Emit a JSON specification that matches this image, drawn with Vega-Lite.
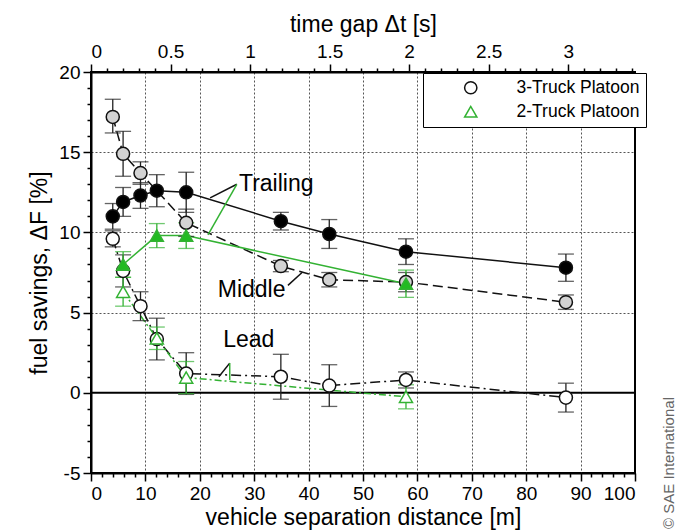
{
  "$schema": "https://vega.github.io/schema/vega-lite/v6.json",
  "width": 544,
  "height": 401,
  "autosize": {"type": "none"},
  "padding": {"left": 91, "top": 72, "right": 46, "bottom": 58},
  "background": "white",
  "config": {
    "font": "Liberation Sans",
    "view": {"stroke": "black", "strokeWidth": 2},
    "axis": {
      "domainColor": "black",
      "domainWidth": 2,
      "tickColor": "black",
      "tickWidth": 1.5,
      "labelColor": "black",
      "titleColor": "black",
      "labelFontSize": 19,
      "titleFontSize": 23,
      "titleFontWeight": "normal",
      "gridColor": "#555555",
      "gridDash": [2, 2],
      "gridWidth": 1
    },
    "legend": {"labelFontSize": 17.5, "labelColor": "black"}
  },
  "title": {
    "text": "© SAE International",
    "orient": "right",
    "anchor": "end",
    "frame": "bounds",
    "angle": -90,
    "align": "left",
    "baseline": "top",
    "fontSize": 15,
    "fontWeight": "normal",
    "color": "#666666",
    "offset": 0
  },
  "datasets": {
    "fuel": [
      {"series": "3T Trailing", "platoon": "3-Truck Platoon", "d": 4.0, "f": 11.0, "lo": 10.2, "hi": 11.8},
      {"series": "3T Trailing", "platoon": "3-Truck Platoon", "d": 5.9, "f": 11.9, "lo": 11.0, "hi": 12.8},
      {"series": "3T Trailing", "platoon": "3-Truck Platoon", "d": 9.1, "f": 12.3, "lo": 11.5, "hi": 13.1},
      {"series": "3T Trailing", "platoon": "3-Truck Platoon", "d": 12.1, "f": 12.6, "lo": 11.6, "hi": 13.6},
      {"series": "3T Trailing", "platoon": "3-Truck Platoon", "d": 17.5, "f": 12.5, "lo": 11.25, "hi": 13.75},
      {"series": "3T Trailing", "platoon": "3-Truck Platoon", "d": 34.9, "f": 10.7, "lo": 10.15, "hi": 11.25},
      {"series": "3T Trailing", "platoon": "3-Truck Platoon", "d": 43.8, "f": 9.9, "lo": 9.0, "hi": 10.8},
      {"series": "3T Trailing", "platoon": "3-Truck Platoon", "d": 57.9, "f": 8.8, "lo": 8.0, "hi": 9.6},
      {"series": "3T Trailing", "platoon": "3-Truck Platoon", "d": 87.3, "f": 7.8, "lo": 6.95, "hi": 8.65},
      {"series": "3T Middle", "platoon": "3-Truck Platoon", "d": 4.0, "f": 17.2, "lo": 16.2, "hi": 18.3},
      {"series": "3T Middle", "platoon": "3-Truck Platoon", "d": 5.9, "f": 14.9, "lo": 13.5, "hi": 16.3},
      {"series": "3T Middle", "platoon": "3-Truck Platoon", "d": 9.1, "f": 13.7, "lo": 13.0, "hi": 14.4},
      {"series": "3T Middle", "platoon": "3-Truck Platoon", "d": 17.5, "f": 10.6, "lo": 9.75, "hi": 11.45},
      {"series": "3T Middle", "platoon": "3-Truck Platoon", "d": 34.9, "f": 7.9, "lo": 7.55, "hi": 8.25},
      {"series": "3T Middle", "platoon": "3-Truck Platoon", "d": 43.8, "f": 7.05, "lo": 6.6, "hi": 7.5},
      {"series": "3T Middle", "platoon": "3-Truck Platoon", "d": 57.9, "f": 6.9, "lo": 6.3, "hi": 7.5},
      {"series": "3T Middle", "platoon": "3-Truck Platoon", "d": 87.3, "f": 5.65, "lo": 5.2, "hi": 6.1},
      {"series": "3T Lead", "platoon": "3-Truck Platoon", "d": 4.0, "f": 9.6, "lo": 9.1, "hi": 10.1},
      {"series": "3T Lead", "platoon": "3-Truck Platoon", "d": 5.9, "f": 7.6, "lo": 6.6, "hi": 8.6},
      {"series": "3T Lead", "platoon": "3-Truck Platoon", "d": 9.1, "f": 5.4, "lo": 4.5, "hi": 6.3},
      {"series": "3T Lead", "platoon": "3-Truck Platoon", "d": 12.1, "f": 3.35, "lo": 2.05, "hi": 4.65},
      {"series": "3T Lead", "platoon": "3-Truck Platoon", "d": 17.5, "f": 1.2, "lo": -0.1, "hi": 2.5},
      {"series": "3T Lead", "platoon": "3-Truck Platoon", "d": 34.9, "f": 1.0, "lo": -0.4, "hi": 2.4},
      {"series": "3T Lead", "platoon": "3-Truck Platoon", "d": 43.8, "f": 0.45, "lo": -0.85, "hi": 1.75},
      {"series": "3T Lead", "platoon": "3-Truck Platoon", "d": 57.9, "f": 0.8, "lo": 0.3, "hi": 1.3},
      {"series": "3T Lead", "platoon": "3-Truck Platoon", "d": 87.3, "f": -0.3, "lo": -1.2, "hi": 0.6},
      {"series": "2T Trailing", "platoon": "2-Truck Platoon", "d": 5.9, "f": 8.0, "lo": 7.2, "hi": 8.8},
      {"series": "2T Trailing", "platoon": "2-Truck Platoon", "d": 12.1, "f": 9.8, "lo": 9.05, "hi": 10.55},
      {"series": "2T Trailing", "platoon": "2-Truck Platoon", "d": 17.5, "f": 9.8, "lo": 9.0, "hi": 10.6},
      {"series": "2T Trailing", "platoon": "2-Truck Platoon", "d": 57.9, "f": 6.8, "lo": 5.95, "hi": 7.65},
      {"series": "2T Lead", "platoon": "2-Truck Platoon", "d": 5.9, "f": 6.3, "lo": 5.4, "hi": 7.2},
      {"series": "2T Lead", "platoon": "2-Truck Platoon", "d": 12.1, "f": 3.4, "lo": 2.7, "hi": 4.1},
      {"series": "2T Lead", "platoon": "2-Truck Platoon", "d": 17.5, "f": 0.95, "lo": -0.05, "hi": 1.95},
      {"series": "2T Lead", "platoon": "2-Truck Platoon", "d": 57.9, "f": -0.25, "lo": -1.0, "hi": 0.5}
    ],
    "notes": [
      {"label": "Trailing", "d": 27.2, "f": 13.0},
      {"label": "Middle", "d": 23.3, "f": 6.4},
      {"label": "Lead", "d": 24.3, "f": 3.3}
    ],
    "leaders": [
      {"platoon": "3-Truck Platoon", "d": 26.8, "f": 13.0, "d2": 21.9, "f2": 12.15},
      {"platoon": "2-Truck Platoon", "d": 26.8, "f": 13.0, "d2": 21.5, "f2": 9.85},
      {"platoon": "3-Truck Platoon", "d": 36.2, "f": 6.7, "d2": 38.8, "f2": 7.5},
      {"platoon": "3-Truck Platoon", "d": 25.5, "f": 1.85, "d2": 23.5, "f2": 1.0},
      {"platoon": "2-Truck Platoon", "d": 25.5, "f": 1.85, "d2": 25.5, "f2": 0.8}
    ]
  },
  "layer": [
    {
      "encoding": {
        "x": {
          "field": "d",
          "type": "quantitative",
          "scale": {"domain": [0, 100], "nice": false, "zero": false},
          "axis": {
            "orient": "bottom",
            "title": "vehicle separation distance [m]",
            "titlePadding": 3,
            "values": [0, 2, 4, 6, 8, 10, 12, 14, 16, 18, 20, 22, 24, 26, 28, 30, 32, 34, 36, 38, 40, 42, 44, 46, 48, 50, 52, 54, 56, 58, 60, 62, 64, 66, 68, 70, 72, 74, 76, 78, 80, 82, 84, 86, 88, 90, 92, 94, 96, 98, 100],
            "labelExpr": "datum.value % 10 === 0 ? datum.label : ''",
            "labelPadding": 3,
            "labelOverlap": false,
            "tickSize": {"condition": {"test": "datum.value % 10 === 0", "value": 8}, "value": 4},
            "grid": true,
            "gridOpacity": {"condition": {"test": "datum.value % 10 === 0 && datum.value > 0 && datum.value < 100", "value": 1}, "value": 0}
          }
        },
        "y": {
          "field": "f",
          "type": "quantitative",
          "scale": {"domain": [-5, 20], "nice": false, "zero": false},
          "axis": {
            "title": "fuel savings, ΔF [%]",
            "titlePadding": 7,
            "values": [-5, -4, -3, -2, -1, 0, 1, 2, 3, 4, 5, 6, 7, 8, 9, 10, 11, 12, 13, 14, 15, 16, 17, 18, 19, 20],
            "labelExpr": "datum.value % 5 === 0 ? '' + datum.value : ''",
            "labelPadding": 3,
            "labelOverlap": false,
            "tickSize": {"condition": {"test": "datum.value % 5 === 0", "value": 8}, "value": 4},
            "grid": true,
            "gridOpacity": {"condition": {"test": "datum.value === 5 || datum.value === 10 || datum.value === 15", "value": 1}, "value": 0}
          }
        }
      },
      "layer": [
        {
          "data": {"values": [{"d": 0, "f": 0, "d2": 100}]},
          "mark": {"type": "rule", "color": "black", "strokeWidth": 2},
          "encoding": {"x2": {"field": "d2"}}
        },
        {
          "data": {"name": "fuel"},
          "transform": [{"filter": "datum.series === '3T Trailing'"}],
          "mark": {"type": "line", "strokeWidth": 1.5, "color": "#111111"},
          "encoding": {}
        },
        {
          "data": {"name": "fuel"},
          "transform": [{"filter": "datum.series === '3T Middle'"}],
          "mark": {"type": "line", "strokeWidth": 1.5, "color": "#111111", "strokeDash": [10, 5]},
          "encoding": {}
        },
        {
          "data": {"name": "fuel"},
          "transform": [{"filter": "datum.series === '3T Lead'"}],
          "mark": {"type": "line", "strokeWidth": 1.5, "color": "#111111", "strokeDash": [10, 4, 2, 4]},
          "encoding": {}
        },
        {
          "data": {"name": "fuel"},
          "transform": [{"filter": "datum.series === '2T Trailing'"}],
          "mark": {"type": "line", "strokeWidth": 1.5, "color": "#33b233"},
          "encoding": {}
        },
        {
          "data": {"name": "fuel"},
          "transform": [{"filter": "datum.series === '2T Lead'"}],
          "mark": {"type": "line", "strokeWidth": 1.5, "color": "#33b233", "strokeDash": [7, 3, 2, 3]},
          "encoding": {}
        },
        {
          "data": {"name": "fuel"},
          "transform": [{"filter": "datum.platoon === '3-Truck Platoon'"}],
          "mark": {"type": "errorbar", "ticks": {"size": 16}, "thickness": 1.3, "color": "#222222"},
          "encoding": {
            "y": {"field": "lo", "type": "quantitative", "scale": {"domain": [-5, 20], "nice": false, "zero": false}, "title": "fuel savings, ΔF [%]"},
            "y2": {"field": "hi"}
          }
        },
        {
          "data": {"name": "fuel"},
          "transform": [{"filter": "datum.platoon === '2-Truck Platoon'"}],
          "mark": {"type": "errorbar", "ticks": {"size": 16}, "thickness": 1.3, "color": "#33b233"},
          "encoding": {
            "y": {"field": "lo", "type": "quantitative", "scale": {"domain": [-5, 20], "nice": false, "zero": false}, "title": "fuel savings, ΔF [%]"},
            "y2": {"field": "hi"}
          }
        },
        {
          "data": {"name": "leaders"},
          "transform": [{"filter": "datum.platoon === '3-Truck Platoon'"}],
          "mark": {"type": "rule", "color": "#111111", "strokeWidth": 1.5},
          "encoding": {"x2": {"field": "d2"}, "y2": {"field": "f2"}}
        },
        {
          "data": {"name": "leaders"},
          "transform": [{"filter": "datum.platoon === '2-Truck Platoon'"}],
          "mark": {"type": "rule", "color": "#33b233", "strokeWidth": 1.5},
          "encoding": {"x2": {"field": "d2"}, "y2": {"field": "f2"}}
        },
        {
          "data": {"name": "notes"},
          "mark": {"type": "text", "align": "left", "baseline": "middle", "fontSize": 23, "color": "black"},
          "encoding": {"text": {"field": "label"}}
        },
        {
          "data": {"name": "fuel"},
          "mark": {"type": "point", "filled": true, "opacity": 1, "strokeWidth": 1.5, "size": 170},
          "encoding": {
            "shape": {
              "field": "platoon",
              "type": "nominal",
              "scale": {"domain": ["3-Truck Platoon", "2-Truck Platoon"], "range": ["circle", "triangle-up"]},
              "legend": {
                "title": null,
                "orient": "none",
                "legendX": 332,
                "legendY": 1,
                "strokeColor": "black",
                "fillColor": "white",
                "padding": 6,
                "symbolSize": 150,
                "symbolStrokeWidth": 1.5,
                "symbolFillColor": "transparent",
                "symbolOffset": 33,
                "labelOffset": 37,
                "rowPadding": 5
              }
            },
            "stroke": {
              "field": "platoon",
              "type": "nominal",
              "scale": {"domain": ["3-Truck Platoon", "2-Truck Platoon"], "range": ["#111111", "#33b233"]},
              "legend": {"title": null}
            },
            "fill": {
              "field": "series",
              "type": "nominal",
              "scale": {
                "domain": ["3T Trailing", "3T Middle", "3T Lead", "2T Trailing", "2T Lead"],
                "range": ["#000000", "#d3d3d3", "#ffffff", "#22bb22", "#ffffff"]
              },
              "legend": null
            }
          }
        }
      ]
    },
    {
      "data": {"values": [{"t": 0}]},
      "mark": {"type": "point", "opacity": 0},
      "encoding": {
        "x": {
          "field": "t",
          "type": "quantitative",
          "scale": {"domain": [0, 3.42], "nice": false, "zero": false},
          "axis": {
            "orient": "top",
            "title": "time gap Δt [s]",
            "titlePadding": 6,
            "format": "~g",
            "values": [0, 0.1, 0.2, 0.3, 0.4, 0.5, 0.6, 0.7, 0.8, 0.9, 1, 1.1, 1.2, 1.3, 1.4, 1.5, 1.6, 1.7, 1.8, 1.9, 2, 2.1, 2.2, 2.3, 2.4, 2.5, 2.6, 2.7, 2.8, 2.9, 3, 3.1, 3.2, 3.3, 3.4],
            "labelExpr": "round(datum.value * 10) % 5 === 0 ? datum.label : ''",
            "labelPadding": 3,
            "labelOverlap": false,
            "tickSize": {"condition": {"test": "round(datum.value * 10) % 5 === 0", "value": 8}, "value": 4},
            "grid": false
          }
        }
      }
    }
  ],
  "resolve": {"scale": {"x": "independent"}}
}
